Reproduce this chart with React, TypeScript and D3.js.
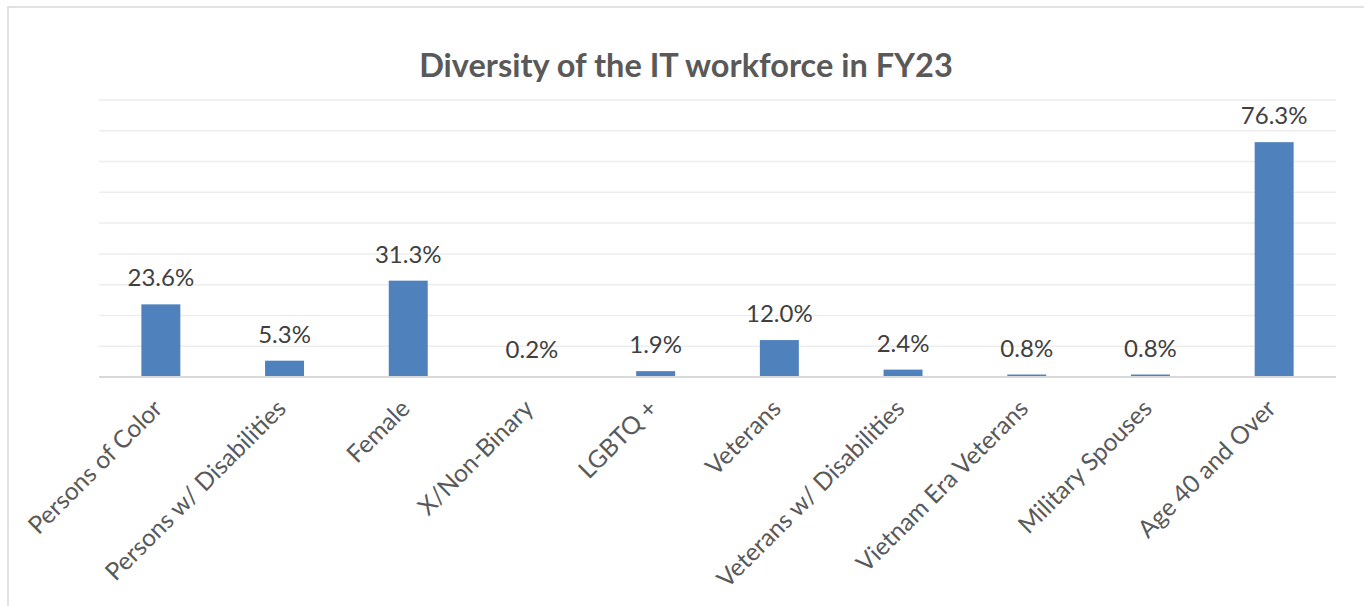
import React from 'react';
import * as d3 from 'd3';

// chart data
const categories = [
  'Persons of Color',
  'Persons w/ Disabilities',
  'Female',
  'X/Non-Binary',
  'LGBTQ +',
  'Veterans',
  'Veterans w/ Disabilities',
  'Vietnam Era Veterans',
  'Military Spouses',
  'Age 40 and Over',
];
const shares = [23.6, 5.3, 31.3, 0.2, 1.9, 12.0, 2.4, 0.8, 0.8, 76.3];
const gridTicks = [0, 10, 20, 30, 40, 50, 60, 70, 80, 90];
const chartTitle = 'Diversity of the IT workforce in FY23';

const W = 1364;
const H = 606;
const margin = { top: 100, right: 28, bottom: 229, left: 99 };
const FONT = 'Lato, "Open Sans", sans-serif';

export default function App() {
  const x = d3
    .scaleBand<string>()
    .domain(categories)
    .range([margin.left, W - margin.right])
    .paddingInner(0.685)
    .paddingOuter(0.3425);

  const y = d3
    .scaleLinear()
    .domain([0, 90])
    .range([H - margin.bottom, margin.top]);

  const base = y(0);

  return (
    <svg
      width={W}
      height={H}
      style={{ position: 'absolute', left: 0, top: 0, background: '#fff' }}
    >
      {/* outer chart frame (only left/top visible) */}
      <rect x={8} y={7} width={1500} height={800} fill="#fff" stroke="#d9d9d9" strokeWidth={1.5} />

      <text
        x={686}
        y={77}
        textAnchor="middle"
        fontFamily={FONT}
        fontWeight={700}
        fontSize={32.5}
        fill="#595959"
      >
        {chartTitle}
      </text>

      {/* gridlines */}
      {gridTicks.slice(1).map(t => (
        <line
          key={t}
          x1={margin.left}
          x2={W - margin.right}
          y1={y(t)}
          y2={y(t)}
          stroke="#ededed"
          strokeWidth={1.5}
        />
      ))}

      {/* bars */}
      {categories.map((c, i) => (
        <rect
          key={c}
          x={x(c)}
          y={y(shares[i])}
          width={x.bandwidth()}
          height={base - y(shares[i])}
          fill="#4f81bd"
        />
      ))}

      {/* baseline */}
      <line
        x1={margin.left}
        x2={W - margin.right}
        y1={base}
        y2={base}
        stroke="#d9d9d9"
        strokeWidth={2}
      />

      {/* data labels */}
      {categories.map((c, i) => (
        <text
          key={c}
          x={(x(c) ?? 0) + x.bandwidth() / 2}
          y={y(shares[i]) - 18}
          textAnchor="middle"
          fontFamily={FONT}
          fontSize={24}
          fill="#404040"
        >
          {shares[i].toFixed(1)}%
        </text>
      ))}

      {/* category labels, rotated */}
      {categories.map(c => {
        const cx = (x(c) ?? 0) + x.bandwidth() / 2;
        return (
          <text
            key={c}
            transform={`translate(${cx - 3}, ${base + 27}) rotate(-45)`}
            textAnchor="end"
            dy="0.35em"
            fontFamily={FONT}
            fontSize={24.5}
            fill="#595959"
          >
            {c}
          </text>
        );
      })}
    </svg>
  );
}
